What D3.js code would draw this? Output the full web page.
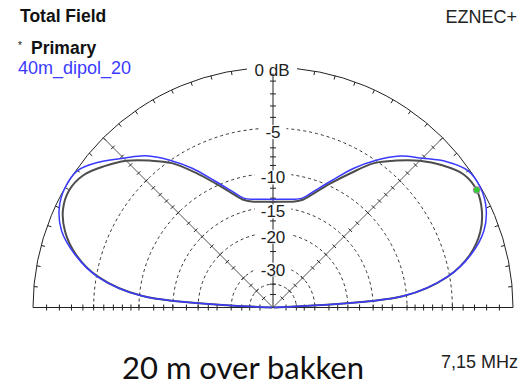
<!DOCTYPE html>
<html>
<head>
<meta charset="utf-8">
<script src="https://cdn.jsdelivr.net/npm/d3@7"></script>
<style>
  body { margin: 0; background: #fff; }
  text { font-family: "Liberation Sans", Arial, sans-serif; }
</style>
</head>
<body>
<div id="chart"></div>
<script>
// EZNEC elevation plot, 40m dipole 20 m above ground (ARRL log scale)

// elevation angle in degrees, 0 = right horizon, 180 = left horizon
const elevAngles = [0, 5, 10, 15, 20, 25, 30, 35, 40, 45, 50, 55, 60, 65, 70, 75, 80, 85, 90,
  95, 100, 105, 110, 115, 120, 125, 130, 135, 140, 145, 150, 155, 160, 165, 170, 175, 180];

// primary trace (dark), dB relative to plot max
const primaryDb = [-99, -10.4, -5.2, -2.8, -1.45, -0.7, -0.35, -0.55, -1.4, -2.5, -3.85, -5.3, -7.5, -9.6, -11.6, -13.2, -13.8, -14.0, -14.1,
  -14.0, -13.8, -13.2, -11.6, -9.6, -7.4, -5.3, -3.85, -2.5, -1.5, -0.65, -0.35, -0.6, -1.4, -2.8, -5.15, -10.4, -99];

// comparison trace "40m_dipol_20" (blue)
const compareDb = [-99, -10.4, -5.2, -2.7, -1.15, -0.35, -0.03, -0.12, -0.97, -2.2, -3.33, -4.95, -6.9, -9.2, -11.2, -12.9, -13.4, -13.6, -13.7,
  -13.6, -13.4, -12.9, -11.2, -9.2, -6.9, -4.95, -3.3, -2.2, -1.0, -0.1, 0, -0.3, -1.1, -2.7, -5.1, -10.4, -99];

const ringDb = [-5, -10, -15, -20, -30, -40];
const ringLabels = ["-5", "-10", "-15", "-20", "-30"];
const tickDb = [-1, -2, -3, -4, -5, -6, -7, -8, -9, -10, -12, -13.5, -15, -17.5, -20, -22.5, -25, -30, -35, -40, -50];
const cursorAngle = 30;
const legendNames = ["Primary", "40m_dipol_20"];

function drawPattern() {
  const width = 529, height = 386;
  const cx = 273, cy = 307.5, R = 240;

  const svg = d3.select("#chart").append("svg")
    .attr("width", width)
    .attr("height", height)
    .style("background", "#fff");

  // ARRL log scale: radius goes as (field ratio)^0.506
  const r = d3.scalePow().exponent(0.506).domain([0, 1]).range([0, R]);
  const rDb = db => r(Math.pow(10, db / 20));
  const rad = deg => deg * Math.PI / 180;

  const g = svg.append("g").attr("transform", `translate(${cx},${cy})`);
  const grid = g.append("g");

  // dashed rings
  ringDb.forEach(db => {
    const p = d3.path();
    const rr = rDb(db);
    p.moveTo(-rr, 0);
    p.arc(0, 0, rr, Math.PI, 2 * Math.PI);
    grid.append("path").attr("d", p.toString())
      .attr("fill", "none").attr("stroke", "#333").attr("stroke-width", 1)
      .attr("stroke-dasharray", "3,3");
  });

  // outer ring
  const outer = d3.path();
  outer.moveTo(-R, 0);
  outer.arc(0, 0, R, Math.PI, 2 * Math.PI);
  grid.append("path").attr("d", outer.toString())
    .attr("fill", "none").attr("stroke", "#222").attr("stroke-width", 1);

  // ticks on outer ring every 5 deg, pointing in
  d3.range(5, 180, 5).forEach(a => {
    const c = Math.cos(rad(a)), s = Math.sin(rad(a));
    grid.append("line")
      .attr("x1", R * c).attr("y1", -R * s)
      .attr("x2", (R - 4) * c).attr("y2", -(R - 4) * s)
      .attr("stroke", "#222");
  });

  // radial lines: horizon, 45, 90, 135 deg, with dB ticks
  [0, 45, 90, 135, 180].forEach(a => {
    const c = Math.cos(rad(a)), s = Math.sin(rad(a));
    grid.append("line")
      .attr("x1", 0).attr("y1", 0)
      .attr("x2", R * c).attr("y2", -R * s)
      .attr("stroke", a % 90 === 0 ? "#222" : "#555").attr("stroke-width", 1);
    const len = a % 90 === 0 ? 3 : 2.5;
    tickDb.forEach(db => {
      const rr = rDb(db);
      const px = rr * c, py = -rr * s;
      // perpendicular direction
      const nx = s, ny = c;
      grid.append("line")
        .attr("x1", px - nx * len).attr("y1", py - ny * len)
        .attr("x2", px + nx * len).attr("y2", py + ny * len)
        .attr("stroke", "#222");
    });
  });

  // ring labels on the vertical axis
  const labels = g.append("g")
    .style("font-size", "17px").attr("fill", "#222").attr("text-anchor", "middle");
  ringLabels.forEach((t, i) => {
    const y = -rDb(ringDb[i]) + 4;
    const w = t.length * 9.5 + 8;
    labels.append("rect").attr("x", -w / 2).attr("y", y - 7).attr("width", w).attr("height", 14)
      .attr("fill", "#fff");
    labels.append("text").attr("x", 0).attr("y", y).attr("dy", "0.35em").text(t);
  });
  labels.append("rect").attr("x", -26).attr("y", -R - 6).attr("width", 50).attr("height", 12)
    .attr("fill", "#fff");
  labels.append("text").attr("x", -1).attr("y", -R + 3).attr("dy", "0.35em").text("0 dB");

  // traces
  const line = d3.lineRadial()
    .angle(d => rad(90 - d[0]))
    .radius(d => rDb(d[1]))
    .curve(d3.curveCatmullRom.alpha(0.5));

  g.append("path")
    .datum(elevAngles.map((a, i) => [a, primaryDb[i]]))
    .attr("d", line)
    .attr("fill", "none").attr("stroke", "#4d4d4d").attr("stroke-width", 2);

  g.append("path")
    .datum(elevAngles.map((a, i) => [a, compareDb[i]]))
    .attr("d", line)
    .attr("fill", "none").attr("stroke", "#3a3aff").attr("stroke-width", 1.5);

  // cursor dot on primary trace
  const ci = elevAngles.indexOf(cursorAngle);
  const cr = rDb(primaryDb[ci]);
  g.append("circle")
    .attr("cx", cr * Math.cos(rad(cursorAngle)))
    .attr("cy", -cr * Math.sin(rad(cursorAngle)))
    .attr("r", 3.5)
    .attr("fill", "#33cc33").attr("stroke", "#cc77cc").attr("stroke-width", 0.8);

  // header texts
  svg.append("text").attr("x", 20).attr("y", 22)
    .style("font-size", "17.5px").style("font-weight", "bold").attr("fill", "#111")
    .text("Total Field");
  svg.append("text").attr("x", 18).attr("y", 49)
    .style("font-size", "10px").attr("fill", "#111").text("*");
  svg.append("text").attr("x", 31).attr("y", 54)
    .style("font-size", "17.5px").style("font-weight", "bold").attr("fill", "#111")
    .text(legendNames[0]);
  svg.append("text").attr("x", 18).attr("y", 74)
    .style("font-size", "18px").attr("fill", "#3a3aff")
    .text(legendNames[1]);
  svg.append("text").attr("x", 517).attr("y", 23).attr("text-anchor", "end")
    .style("font-size", "18px").attr("fill", "#222").text("EZNEC+");
  svg.append("text").attr("x", 518).attr("y", 368).attr("text-anchor", "end")
    .style("font-size", "18px").attr("fill", "#222").text("7,15 MHz");
  svg.append("text").attr("x", 122).attr("y", 379)
    .style("font-family", "Lato, 'Open Sans', sans-serif").style("font-size", "31px").attr("fill", "#111")
    .text("20 m over bakken");
}

document.addEventListener("DOMContentLoaded", drawPattern);
</script>
</body>
</html>
